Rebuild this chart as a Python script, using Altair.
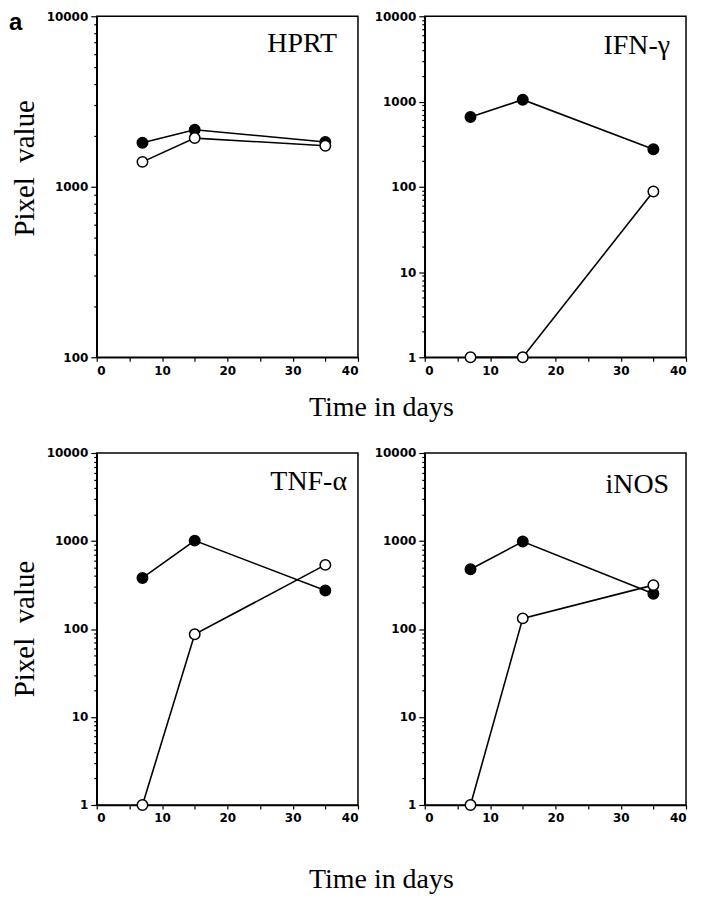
import altair as alt
import pandas as pd

# ---- data ----
days = [7, 15, 35]
panel_names = ["HPRT", "IFN-γ", "TNF-α", "iNOS"]

hprt_filled = [1810, 2160, 1830]
hprt_open = [1400, 1930, 1740]
ifng_filled = [660, 1050, 275]
ifng_open = [1, 1, 88]
tnfa_filled = [380, 1010, 274]
tnfa_open = [1, 87, 535]
inos_filled = [477, 985, 251]
inos_open = [1, 132, 315]

x_tick_values = [0, 5, 10, 15, 20, 25, 30, 35, 40]

SERIF = "Liberation Serif"
SANS = "DejaVu Sans"


def log_ticks(lo, hi):
    vals = []
    d = lo
    while d < hi:
        for m in range(1, 10):
            vals.append(d * m)
        d *= 10
    vals.append(hi)
    return vals


def panel(name, filled_vals, open_vals, ymin, w, h, left, x_title_y, y_title_y,
          label_right, label_base, show_a=False):
    rows = []
    for d, v in zip(days, filled_vals):
        rows.append({"series": "filled", "day": d, "value": v})
    for d, v in zip(days, open_vals):
        rows.append({"series": "open", "day": d, "value": v})
    df = pd.DataFrame(rows)

    x_axis_kwargs = dict(
        values=x_tick_values,
        labelExpr="datum.value % 10 == 0 ? datum.label : ''",
        tickSize=4, labelPadding=4, labelAngle=0, grid=False,
    )
    if left:
        x_axis_kwargs.update(
            title="Time in days", titleX=285, titleY=x_title_y,
            titleAlign="center", titleBaseline="alphabetic",
            titleFont=SERIF, titleFontSize=28, titleFontWeight="normal",
            titleColor="black",
        )
        x_enc = alt.X("day:Q", scale=alt.Scale(domain=[0, 40], nice=False),
                      axis=alt.Axis(**x_axis_kwargs))
    else:
        x_enc = alt.X("day:Q", scale=alt.Scale(domain=[0, 40], nice=False),
                      axis=alt.Axis(**x_axis_kwargs), title=None)

    y_axis_kwargs = dict(
        values=log_ticks(ymin, 10000),
        format="d",
        labelExpr="indexof([1,10,100,1000,10000], datum.value) >= 0 ? datum.label : ''",
        tickSize={"condition": {"test": "indexof([1,10,100,1000,10000], datum.value) >= 0",
                                "value": 6}, "value": 3},
        labelPadding=3, grid=False,
    )
    if left:
        y_axis_kwargs.update(
            title="Pixel\u00a0\u00a0value", titleFont=SERIF, titleFontSize=29,
            titleFontWeight="normal", titleColor="black", titlePadding=7,
            titleY=y_title_y,
        )
        y_enc = alt.Y("value:Q", scale=alt.Scale(type="log", domain=[ymin, 10000], nice=False),
                      axis=alt.Axis(**y_axis_kwargs))
    else:
        y_enc = alt.Y("value:Q", scale=alt.Scale(type="log", domain=[ymin, 10000], nice=False),
                      axis=alt.Axis(**y_axis_kwargs), title=None)

    base = alt.Chart(df)
    lines = base.mark_line(color="black", strokeWidth=1.6).encode(
        x=x_enc, y=y_enc, detail="series:N")
    points = base.mark_circle(size=110, stroke="black", strokeWidth=1.5, opacity=1).encode(
        x=x_enc, y=y_enc,
        fill=alt.Fill("series:N",
                      scale=alt.Scale(domain=["filled", "open"], range=["black", "white"]),
                      legend=None),
    )
    label = alt.Chart(pd.DataFrame({"t": [name]})).mark_text(
        font=SERIF, fontSize=28, align="right", baseline="alphabetic", color="black"
    ).encode(text="t:N", x=alt.value(w - label_right), y=alt.value(label_base))

    layers = [lines, points, label]
    if show_a:
        a_lab = alt.Chart(pd.DataFrame({"t": ["a"]})).mark_text(
            font="Liberation Sans", fontSize=24, fontWeight="bold", align="left",
            baseline="alphabetic", color="black"
        ).encode(text="t:N", x=alt.value(-88), y=alt.value(14))
        layers.append(a_lab)
    return alt.layer(*layers).properties(width=w, height=h)


W = 262
p1 = panel(panel_names[0], hprt_filled, hprt_open, 100, W, 342, True, 58, 152, 21, 36, show_a=True)
p2 = panel(panel_names[1], ifng_filled, ifng_open, 1, W, 342, False, 0, 0, 16, 38)
p3 = panel(panel_names[2], tnfa_filled, tnfa_open, 1, W, 353, True, 83, 176, 11, 37)
p4 = panel(panel_names[3], inos_filled, inos_open, 1, W, 353, False, 0, 0, 17, 40)

chart = alt.concat(
    p1, p2, p3, p4, columns=2,
    spacing={"row": 96, "column": 67}, bounds="flush"
).properties(
    padding={"left": 0, "top": 0, "right": 5, "bottom": 0},
    background="white",
).configure_view(
    stroke="black", strokeWidth=1.5
).configure_axis(
    domainColor="black", domainWidth=1.5, tickColor="black", tickWidth=1.2,
    labelColor="black", labelFont=SANS, labelFontWeight="bold", labelFontSize=12,
    grid=False,
)

chart.save("out.html", embed_options={"renderer": "svg", "actions": False})
